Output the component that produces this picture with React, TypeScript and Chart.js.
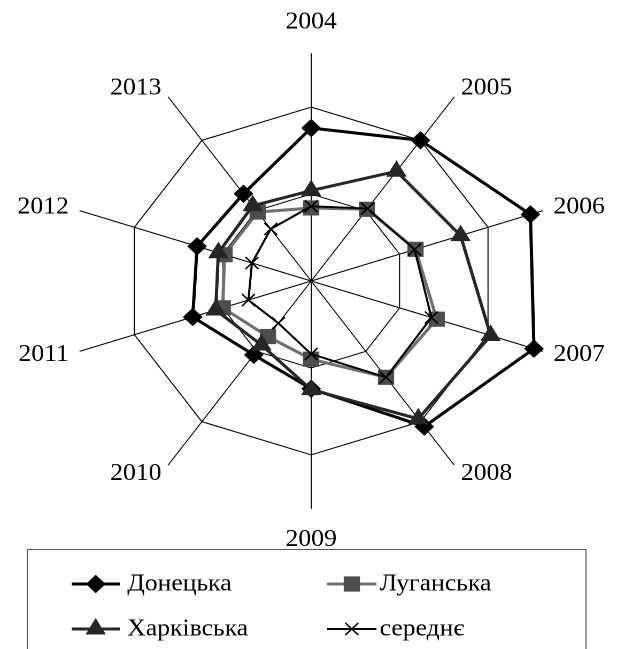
import React, { useEffect, useRef } from 'react';
import { Chart, registerables } from 'chart.js';

Chart.register(...registerables);

// ---- data ----
const years = ['2004', '2005', '2006', '2007', '2008', '2009', '2010', '2011', '2012', '2013'];
const donetsk = [1.76, 2.0, 2.48, 2.52, 2.07, 1.24, 1.05, 1.34, 1.29, 1.24];
const luhansk = [0.84, 1.02, 1.18, 1.42, 1.37, 0.9, 0.79, 1.0, 0.98, 0.98];
const kharkiv = [1.04, 1.56, 1.69, 2.03, 1.96, 1.25, 0.91, 1.08, 1.05, 1.07];
const average = [0.86, 1.03, 1.17, 1.36, 1.37, 0.84, 0.6, 0.71, 0.67, 0.74];
const seriesNames = ['Донецька', 'Луганська', 'Харківська', 'середнє'];
const axisMax = 2.62;

const FONT = "'Liberation Serif', 'Times New Roman', serif";
const CSS_W = 617;
const CSS_H = 649;
const LOGICAL_W = 577;

function drawMarker(
  ctx: CanvasRenderingContext2D,
  style: string,
  x: number,
  y: number,
  r: number,
  fill: string,
  stroke: string,
  bw: number
) {
  ctx.save();
  ctx.fillStyle = fill;
  ctx.strokeStyle = stroke;
  ctx.lineWidth = bw;
  ctx.beginPath();
  if (style === 'rectRot') {
    ctx.moveTo(x, y - r);
    ctx.lineTo(x + r, y);
    ctx.lineTo(x, y + r);
    ctx.lineTo(x - r, y);
    ctx.closePath();
    ctx.fill();
    ctx.stroke();
  } else if (style === 'rect') {
    const s = r * Math.SQRT1_2;
    ctx.rect(x - s, y - s, 2 * s, 2 * s);
    ctx.fill();
    ctx.stroke();
  } else if (style === 'triangle') {
    ctx.moveTo(x, y - r);
    ctx.lineTo(x + 0.866 * r, y + 0.5 * r);
    ctx.lineTo(x - 0.866 * r, y + 0.5 * r);
    ctx.closePath();
    ctx.fill();
    ctx.stroke();
  } else if (style === 'crossRot') {
    const d = r * Math.SQRT1_2;
    ctx.moveTo(x - d, y - d);
    ctx.lineTo(x + d, y + d);
    ctx.moveTo(x - d, y + d);
    ctx.lineTo(x + d, y - d);
    ctx.stroke();
  }
  ctx.restore();
}

const boxLegend = {
  id: 'boxLegend',
  afterDraw(chart: any) {
    const ctx: CanvasRenderingContext2D = chart.ctx;
    ctx.save();
    ctx.strokeStyle = '#5a5a5a';
    ctx.lineWidth = 1;
    ctx.strokeRect(25.5, 549.5, 522.5, 200);
    const cols = [
      { line0: 67, line1: 112, text: 119 },
      { line0: 306, line1: 352, text: 355 },
    ];
    const rows = [584, 629];
    chart.data.datasets.forEach((ds: any, i: number) => {
      const c = cols[i % 2];
      const y = rows[Math.floor(i / 2)];
      ctx.strokeStyle = ds.borderColor;
      ctx.lineWidth = ds.borderWidth;
      ctx.beginPath();
      ctx.moveTo(c.line0, y);
      ctx.lineTo(c.line1, y);
      ctx.stroke();
      drawMarker(
        ctx,
        ds.pointStyle,
        (c.line0 + c.line1) / 2,
        y,
        ds.pointRadius,
        ds.pointBackgroundColor,
        ds.pointBorderColor,
        ds.pointBorderWidth
      );
      ctx.fillStyle = '#000';
      ctx.font = `24px ${FONT}`;
      ctx.textAlign = 'left';
      ctx.textBaseline = 'middle';
      ctx.fillText(ds.label, c.text, y);
    });
    ctx.restore();
  },
};

export default function App() {
  const ref = useRef<HTMLCanvasElement>(null);

  useEffect(() => {
    if (!ref.current) return;
    const chart = new Chart(ref.current, {
      type: 'radar',
      data: {
        labels: years,
        datasets: [
          {
            label: seriesNames[0],
            data: donetsk,
            borderColor: '#000000',
            borderWidth: 3,
            pointStyle: 'rectRot',
            pointRadius: 8.5,
            pointBackgroundColor: '#000000',
            pointBorderColor: '#000000',
            pointBorderWidth: 1,
            fill: false,
            tension: 0,
            order: 4,
          },
          {
            label: seriesNames[1],
            data: luhansk,
            borderColor: '#707070',
            borderWidth: 3,
            pointStyle: 'rect',
            pointRadius: 10,
            pointBackgroundColor: '#4d4d4d',
            pointBorderColor: '#4d4d4d',
            pointBorderWidth: 1,
            fill: false,
            tension: 0,
            order: 3,
          },
          {
            label: seriesNames[2],
            data: kharkiv,
            borderColor: '#262626',
            borderWidth: 3,
            pointStyle: 'triangle',
            pointRadius: 10,
            pointBackgroundColor: '#262626',
            pointBorderColor: '#262626',
            pointBorderWidth: 1,
            fill: false,
            tension: 0,
            order: 2,
          },
          {
            label: seriesNames[3],
            data: average,
            borderColor: '#000000',
            borderWidth: 2,
            pointStyle: 'crossRot',
            pointRadius: 8.5,
            pointBackgroundColor: '#000000',
            pointBorderColor: '#000000',
            pointBorderWidth: 1.5,
            fill: false,
            tension: 0,
            order: 1,
          },
        ] as any,
      },
      options: {
        responsive: false,
        animation: false,
        devicePixelRatio: 2,
        events: [],
        layout: { padding: { top: 23, bottom: 108, left: 5, right: 0 } },
        plugins: {
          legend: { display: false },
          tooltip: { enabled: false },
        },
        scales: {
          r: {
            min: 0,
            max: axisMax,
            ticks: { display: false, stepSize: 1 },
            grid: {
              circular: false,
              lineWidth: 1,
              color: (c: any) =>
                c.tick && c.tick.value > 2.5 ? 'rgba(0,0,0,0)' : '#000000',
            },
            angleLines: { display: true, color: '#000000', lineWidth: 1 },
            pointLabels: {
              color: '#000000',
              font: { family: FONT, size: 24, lineHeight: 0.01 },
              padding: (c: any) => (c.index === 0 || c.index === 5 ? 31 : 10.5),
            },
          },
        },
      } as any,
      plugins: [boxLegend],
    });
    return () => chart.destroy();
  }, []);

  return (
    <div style={{ position: 'absolute', left: 0, top: 0, width: CSS_W, height: CSS_H }}>
      <canvas
        ref={ref}
        width={LOGICAL_W}
        height={CSS_H}
        style={{ display: 'block', width: `${CSS_W}px`, height: `${CSS_H}px` }}
      />
    </div>
  );
}
